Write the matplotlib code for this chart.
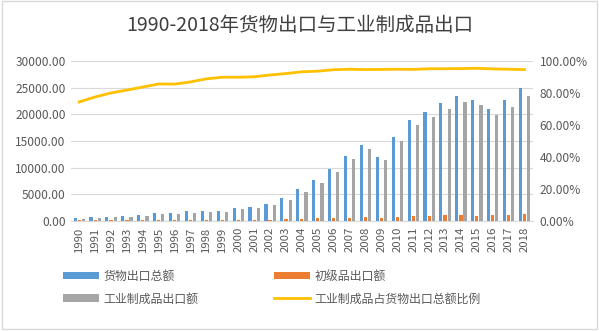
import numpy as np
import matplotlib.pyplot as plt
from matplotlib.patches import Rectangle

plt.rcParams['font.family'] = ['Noto Sans CJK SC', 'DejaVu Sans']

years = [str(y) for y in range(1990, 2019)]
total_export = [620.9, 719.1, 849.4, 917.4, 1210.1, 1487.8, 1510.5, 1827.9, 1837.1, 1949.3,
                2492.0, 2661.0, 3256.0, 4382.3, 5933.3, 7619.5, 9689.8, 12200.6, 14306.9, 12016.1,
                15777.5, 18983.8, 20487.1, 22090.0, 23422.9, 22734.7, 20976.3, 22633.5, 24867.0]
primary_export = [158.9, 161.5, 170.0, 166.7, 197.1, 214.9, 219.3, 239.5, 204.9, 199.4,
                  254.6, 263.4, 285.4, 348.1, 405.5, 490.4, 529.2, 615.1, 779.6, 631.1,
                  816.9, 1005.5, 1005.6, 1072.7, 1126.9, 1039.3, 1051.9, 1177.3, 1349.9]
manuf_export = [462.0, 556.9, 679.4, 750.8, 1012.9, 1272.9, 1291.2, 1588.4, 1632.2, 1749.9,
                2237.4, 2397.6, 2970.6, 4034.2, 5527.8, 7129.6, 9160.2, 11562.7, 13527.4, 11384.8,
                14960.7, 17978.4, 19481.6, 21017.4, 22296.0, 21695.4, 19924.4, 21456.6, 23517.0]
manuf_ratio = [74.4, 77.5, 80.0, 81.8, 83.7, 85.6, 85.5, 86.9, 88.8, 89.8,
               89.8, 90.1, 91.2, 92.1, 93.2, 93.6, 94.5, 94.8, 94.6, 94.7,
               94.8, 94.7, 95.1, 95.1, 95.2, 95.4, 95.0, 94.8, 94.6]

blue = '#5b9bd5'
orange = '#ed7d31'
gray = '#a5a5a5'
gold = '#ffc000'
txt = '#595959'

fig = plt.figure(figsize=(5.99, 3.31), dpi=100)
fig.patches.append(Rectangle((0.003, 0.006), 0.994, 0.99, transform=fig.transFigure,
                             fill=False, edgecolor='#d9d9d9', lw=1))
ax = fig.add_axes([0.119, 0.332, 0.770, 0.484])
x = np.arange(len(years))
w = 0.2
ax.bar(x - 0.26, total_export, w, color=blue, label='货物出口总额', zorder=3)
ax.bar(x, primary_export, w, color=orange, label='初级品出口额', zorder=3)
ax.bar(x + 0.26, manuf_export, w, color=gray, label='工业制成品出口额', zorder=3)
ax.set_ylim(0, 30000)
ax.set_yticks(range(0, 30001, 5000))
ax.set_yticklabels([f'{v}.00' if v else '0.00' for v in range(0, 30001, 5000)])
ax.set_xlim(-0.5, len(years) - 0.5)
ax.set_xticks(x)
ax.set_xticklabels(years, rotation=90)
ax.grid(axis='y', color='#d9d9d9', lw=0.8, zorder=0)
for s in ['top', 'right', 'left']:
    ax.spines[s].set_visible(False)
ax.spines['bottom'].set_color('#d9d9d9')
ax.tick_params(axis='y', length=0, labelsize=8.6, labelcolor=txt, pad=4)
ax.tick_params(axis='x', length=0, labelsize=8.2, labelcolor=txt, pad=4)

ax2 = ax.twinx()
ax2.plot(x, manuf_ratio, color=gold, lw=2, label='工业制成品占货物出口总额比例', zorder=4)
ax2.set_ylim(0, 100)
ax2.set_yticks(range(0, 101, 20))
ax2.set_yticklabels([f'{v}.00%' for v in range(0, 101, 20)])
for s in ax2.spines.values():
    s.set_visible(False)
ax2.tick_params(length=0, labelsize=8.6, labelcolor=txt, pad=5)

fig.suptitle('1990-2018年货物出口与工业制成品出口', fontsize=14, color='#404040', y=0.955)

h1, l1 = ax.get_legend_handles_labels()
h2, l2 = ax2.get_legend_handles_labels()
handles = [h1[0], h1[2], h1[1], h2[0]]
labels = [l1[0], l1[2], l1[1], l2[0]]
fig.legend(handles, labels, ncol=2, loc='lower left', bbox_to_anchor=(0.087, 0.045),
           frameon=False, fontsize=8.6, labelcolor=txt, handlelength=3.0, handleheight=0.6,
           handletextpad=0.4, columnspacing=6.3, labelspacing=0.8)

fig.savefig('out.png', dpi=100)
